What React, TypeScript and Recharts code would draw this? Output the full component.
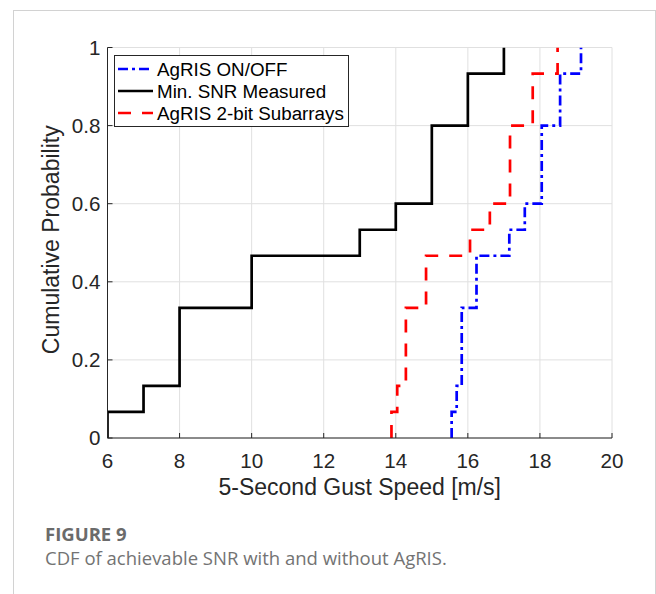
import React from 'react';
import { LineChart, Line, XAxis, YAxis, CartesianGrid, Legend } from 'recharts';

const xTicks = [6, 8, 10, 12, 14, 16, 18, 20];
const yTicks = [0, 0.2, 0.4, 0.6, 0.8, 1];
const cdfLevels = [0, 0.0667, 0.1333, 0.3333, 0.4667, 0.5333, 0.6, 0.8, 0.9333, 1];
const onOffSpeeds = [15.55, 15.55, 15.69, 15.83, 16.24, 17.15, 17.58, 18.05, 18.56, 19.14];
const measuredSpeeds = [6, 6, 7, 8, 10, 13, 14, 15, 16, 17];
const twoBitSpeeds = [13.88, 13.88, 14.04, 14.28, 14.84, 16.06, 16.61, 17.17, 17.8, 18.49];
const seriesNames = ['AgRIS ON/OFF', 'Min. SNR Measured', 'AgRIS 2-bit Subarrays'];

const toPoints = (xs: number[]) => xs.map((x, i) => ({ x, y: cdfLevels[i] }));
const onOffData = toPoints(onOffSpeeds);
const measuredData = toPoints(measuredSpeeds);
const twoBitData = toPoints(twoBitSpeeds);

const AX = '#262626';
const FONT = '"Liberation Sans", Arial, Helvetica, sans-serif';
const TICK_FS = 20.6;

const BottomTick = (p: any) => {
  const { x, y, payload } = p;
  return (
    <g>
      <line x1={x} x2={x} y1={y - 15} y2={y - 20} stroke={AX} strokeWidth={1} />
      <text x={x} y={y} dy="0.71em" textAnchor="middle" fontSize={TICK_FS} fontFamily={FONT} fill={AX}>
        {payload.value}
      </text>
    </g>
  );
};
const TopTick = (p: any) => {
  const { x, y } = p;
  return <line x1={x} x2={x} y1={y} y2={y + 5} stroke={AX} strokeWidth={1} />;
};
const LeftTick = (p: any) => {
  const { x, y, payload } = p;
  return (
    <g>
      <line x1={x + 7} x2={x + 12} y1={y} y2={y} stroke={AX} strokeWidth={1} />
      <text x={x} y={y} dy="0.36em" textAnchor="end" fontSize={TICK_FS} fontFamily={FONT} fill={AX}>
        {payload.value}
      </text>
    </g>
  );
};
const RightTick = (p: any) => {
  const { x, y } = p;
  return <line x1={x} x2={x - 5} y1={y} y2={y} stroke={AX} strokeWidth={1} />;
};

const YLabel = (p: any) => {
  const vb = p.viewBox || {};
  const cx = vb.x + vb.width / 2 - 3.5;
  const cy = vb.y + vb.height / 2 - 3;
  return (
    <text
      x={cx}
      y={cy}
      dy="0.36em"
      transform={`rotate(-90 ${cx} ${cy})`}
      textAnchor="middle"
      fontSize={23}
      fontFamily={FONT}
      fill={AX}
    >
      Cumulative Probability
    </text>
  );
};

const LegendBox = (props: any) => {
  const items = [...(props.payload || [])].sort(
    (a: any, b: any) => seriesNames.indexOf(a.value) - seriesNames.indexOf(b.value)
  );
  return (
    <svg width={235} height={72} style={{ display: 'block' }}>
      <rect x={0.5} y={0.5} width={234} height={71} fill="#fff" stroke={AX} strokeWidth={1} />
      {items.map((it: any, i: number) => {
        const cy = 14 + 22 * i;
        return (
          <g key={i}>
            <line
              x1={4}
              x2={39}
              y1={cy}
              y2={cy}
              stroke={it.color}
              strokeWidth={2.5}
              strokeDasharray={it.payload && it.payload.strokeDasharray}
            />
            <text x={43} y={cy + 6.6} fontSize={18.8} fontFamily={FONT} fill="#000">
              {it.value}
            </text>
          </g>
        );
      })}
    </svg>
  );
};

export default function App() {
  return (
    <div style={{ position: 'absolute', left: 0, top: 0, width: 656, height: 594, overflow: 'hidden', background: '#fff' }}>
      <div
        style={{
          position: 'absolute',
          left: 13,
          top: 10,
          width: 643,
          height: 700,
          boxSizing: 'border-box',
          border: '1px solid #d2d2d2',
        }}
      />
      <div style={{ position: 'absolute', left: 0, top: 0 }}>
        <LineChart width={656} height={540} margin={{ top: 47.5, right: 44, left: 0, bottom: 0 }}>
          <CartesianGrid stroke="#e0e0e0" strokeWidth={1} />
          <XAxis
            dataKey="x"
            type="number"
            domain={[6, 20]}
            ticks={xTicks}
            interval={0}
            allowDataOverflow
            height={102}
            tickSize={0}
            tickMargin={15}
            tickLine={false}
            axisLine={{ stroke: AX, strokeWidth: 1 }}
            tick={BottomTick}
            label={{ value: '5-Second Gust Speed [m/s]', position: 'insideTop', offset: 41, fontSize: 23, fontFamily: FONT, fill: AX }}
          />
          <XAxis
            xAxisId="t"
            orientation="top"
            type="number"
            domain={[6, 20]}
            ticks={xTicks}
            interval={0}
            allowDataOverflow
            height={0}
            tickSize={0}
            tickMargin={0}
            tickLine={false}
            axisLine={{ stroke: AX, strokeWidth: 1 }}
            tick={TopTick}
          />
          <YAxis
            type="number"
            domain={[0, 1]}
            ticks={yTicks}
            interval={0}
            allowDataOverflow
            width={107.5}
            tickSize={0}
            tickMargin={7}
            tickLine={false}
            axisLine={{ stroke: AX, strokeWidth: 1 }}
            tick={LeftTick}
            label={{ content: YLabel }}
          />
          <YAxis
            yAxisId="r"
            orientation="right"
            type="number"
            domain={[0, 1]}
            ticks={yTicks}
            interval={0}
            allowDataOverflow
            width={0}
            tickSize={0}
            tickMargin={0}
            tickLine={false}
            axisLine={{ stroke: AX, strokeWidth: 1 }}
            tick={RightTick}
          />
          <Legend
            layout="vertical"
            align="center"
            verticalAlign="middle"
            content={<LegendBox />}
            wrapperStyle={{ position: 'absolute', left: 114, top: 55, width: 235, height: 72 }}
          />
          <Line
            data={onOffData}
            dataKey="y"
            name={seriesNames[0]}
            type="stepAfter"
            stroke="#0000ff"
            strokeWidth={2.7}
            strokeDasharray="10 4 3 4"
            dot={false}
            isAnimationActive={false}
          />
          <Line
            data={measuredData}
            dataKey="y"
            name={seriesNames[1]}
            type="stepAfter"
            stroke="#000000"
            strokeWidth={2.7}
            dot={false}
            isAnimationActive={false}
          />
          <Line
            data={twoBitData}
            dataKey="y"
            name={seriesNames[2]}
            type="stepAfter"
            stroke="#ff0000"
            strokeWidth={2.7}
            strokeDasharray="13 11"
            dot={false}
            isAnimationActive={false}
          />
        </LineChart>
      </div>
      <svg width={656} height={594} style={{ position: 'absolute', left: 0, top: 0, pointerEvents: 'none' }}>
        <text x={45} y={541} fontSize={18.5} fontWeight={700} fontFamily='"Open Sans", sans-serif' fill="#6b6b6b">
          FIGURE 9
        </text>
        <text x={45} y={565} fontSize={18.5} fontFamily='"Open Sans", sans-serif' fill="#737373">
          CDF of achievable SNR with and without AgRIS.
        </text>
      </svg>
    </div>
  );
}
